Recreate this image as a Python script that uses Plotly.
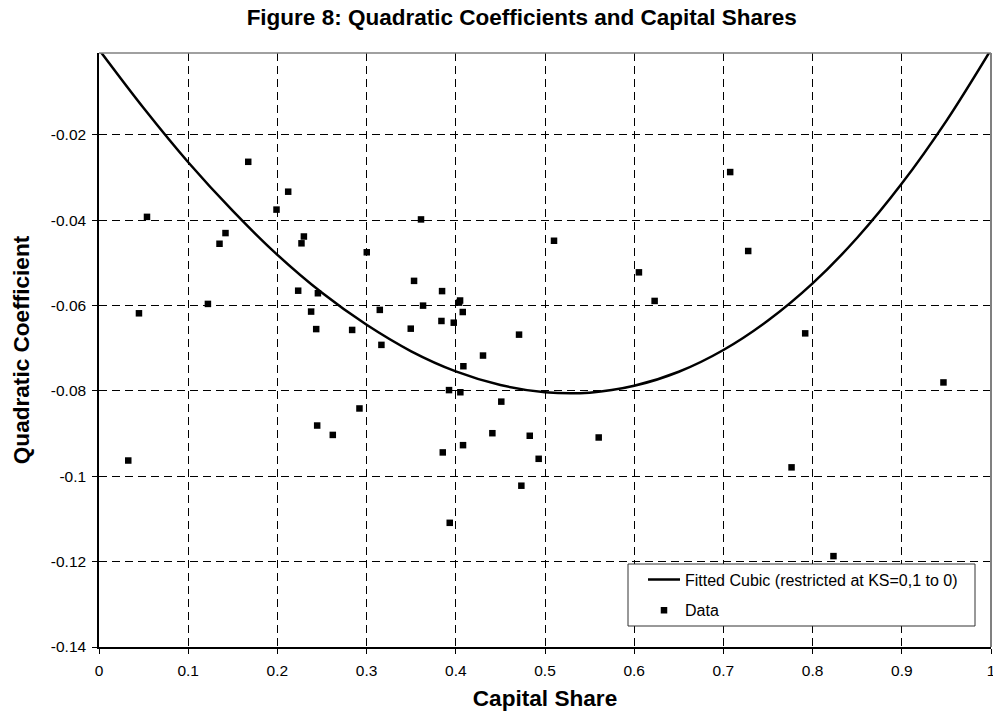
import plotly.graph_objects as go

# ---- data ----
capital_share = [
    0.0538, 0.0448, 0.1673, 0.2121, 0.1990, 0.1418, 0.1351, 0.2297, 0.2270, 0.1221,
    0.2233, 0.2454, 0.2378, 0.2435, 0.0328, 0.2446, 0.3610, 0.3002, 0.5101, 0.6053,
    0.6229, 0.3532, 0.3846, 0.3633, 0.4048, 0.4037, 0.3148, 0.4078, 0.2838, 0.3495,
    0.3839, 0.3977, 0.3166, 0.4709, 0.4305, 0.4085, 0.3924, 0.4051, 0.4510, 0.2920,
    0.2621, 0.4410, 0.4829, 0.5602, 0.4081, 0.3854, 0.4929, 0.4735, 0.3932, 0.7076,
    0.7278, 0.7917, 0.9467, 0.7764, 0.8234,
]
quad_coef = [
    -0.0392, -0.0618, -0.0263, -0.0333, -0.0375, -0.0430, -0.0455, -0.0438, -0.0454, -0.0596,
    -0.0565, -0.0571, -0.0614, -0.0655, -0.0963, -0.0881, -0.0398, -0.0475, -0.0448, -0.0522,
    -0.0589, -0.0542, -0.0566, -0.0600, -0.0588, -0.0593, -0.0610, -0.0615, -0.0657, -0.0654,
    -0.0636, -0.0640, -0.0692, -0.0668, -0.0717, -0.0742, -0.0798, -0.0803, -0.0825, -0.0841,
    -0.0903, -0.0899, -0.0905, -0.0909, -0.0927, -0.0944, -0.0959, -0.1022, -0.1109, -0.0287,
    -0.0472, -0.0665, -0.0780, -0.0979, -0.1187,
]

# fitted cubic, values
curve_x = [0.0, 0.05, 0.1, 0.15, 0.2, 0.25, 0.3, 0.35, 0.4, 0.45, 0.5,
           0.55, 0.6, 0.65, 0.7, 0.75, 0.8, 0.85, 0.9, 0.95, 1.0]
curve_y = [0.0, -0.0137, -0.0264, -0.0378, -0.0481, -0.0570, -0.0645, -0.0707, -0.0754, -0.0786, -0.0803,
           -0.0804, -0.0788, -0.0755, -0.0704, -0.0635, -0.0548, -0.0441, -0.0314, -0.0167, 0.0]

x_ticks = [0, 0.1, 0.2, 0.3, 0.4, 0.5, 0.6, 0.7, 0.8, 0.9, 1]
x_ticktext = ["0", "0.1", "0.2", "0.3", "0.4", "0.5", "0.6", "0.7", "0.8", "0.9", "1"]
y_ticks = [-0.14, -0.12, -0.10, -0.08, -0.06, -0.04, -0.02]
y_ticktext = ["-0.14", "-0.12", "-0.1", "-0.08", "-0.06", "-0.04", "-0.02"]

FONT = "Liberation Sans, Arial, sans-serif"
W, H = 993, 712
L, R, T, B = 99, 2, 53, 65
PW, PH = W - L - R, H - T - B

fig = go.Figure()
fig.add_trace(go.Scatter(
    x=curve_x, y=curve_y, mode="lines", line_shape="spline",
    line=dict(color="black", width=2.5),
    name="Fitted Cubic (restricted at KS=0,1 to 0)", legendgroup="fit",
))
fig.add_trace(go.Scatter(
    x=capital_share, y=quad_coef, mode="markers",
    marker=dict(symbol="square", size=6.5, color="black"),
    name="Data", legendgroup="data",
))

fig.update_layout(
    width=W, height=H,
    margin=dict(l=L, r=R, t=T, b=B),
    paper_bgcolor="white", plot_bgcolor="white",
    font=dict(family=FONT, color="black", size=15.5),
    title=dict(
        text="<b>Figure 8: Quadratic Coefficients and Capital Shares</b>",
        font=dict(family=FONT, size=22.5, color="black"),
        x=521.7 / W, xanchor="center", xref="container",
        y=1 - 17.5 / H, yanchor="middle", yref="container",
    ),
    legend=dict(
        x=(643 - L) / PW, y=(H - B - 562.5) / PH, xanchor="left", yanchor="top",
        bgcolor="rgba(0,0,0,0)", borderwidth=0,
        font=dict(family=FONT, size=16, color="black"),
        tracegroupgap=7, itemwidth=32,
    ),
    showlegend=True,
)
fig.update_xaxes(
    range=[0, 1], tickvals=x_ticks, ticktext=x_ticktext,
    showline=True, linecolor="black", linewidth=1.5,
    ticks="outside", ticklen=5, tickcolor="black", ticklabelstandoff=4,
    ticklabeloverflow="allow",
    showgrid=True, gridcolor="black", gridwidth=1, griddash="8px,5px",
    zeroline=False,
    title=dict(text="<b>Capital Share</b>", font=dict(family=FONT, size=22.6), standoff=12),
    automargin=False,
)
fig.update_yaxes(
    range=[-0.14, -0.0008], tickvals=y_ticks, ticktext=y_ticktext,
    showline=True, linecolor="black", linewidth=1.5,
    ticks="outside", ticklen=5, tickcolor="black", ticklabelstandoff=3,
    showgrid=True, gridcolor="black", gridwidth=1, griddash="8px,5px",
    zeroline=False,
    title=dict(text="<b>Quadratic Coefficient</b>", font=dict(family=FONT, size=22.6), standoff=15),
    automargin=False,
)
# gray top and right frame of the plot area
fig.add_shape(type="line", xref="paper", yref="paper", x0=0, x1=1, y0=1, y1=1,
              line=dict(color="#808080", width=1.5))
fig.add_shape(type="line", xref="paper", yref="paper", x0=1, x1=1, y0=0, y1=1,
              line=dict(color="#808080", width=2))
# legend frame (white box over the grid)
fig.add_shape(type="rect", xref="paper", yref="paper", layer="above",
              x0=(628 - L) / PW, x1=(975 - L) / PW,
              y0=(H - B - 626) / PH, y1=(H - B - 564) / PH,
              fillcolor="white", line=dict(color="#333333", width=1))

fig.write_html("out.html", config={"displayModeBar": False},
               post_script="document.body.style.margin='0px';")
